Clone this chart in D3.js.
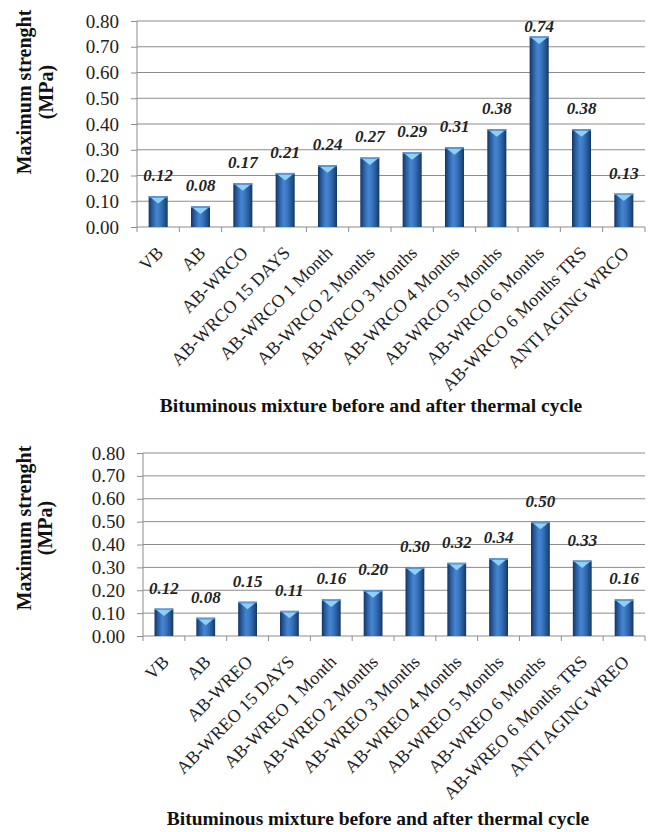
<!DOCTYPE html>
<html>
<head>
<meta charset="utf-8">
<script src="https://cdn.jsdelivr.net/npm/d3@7"></script>
<style>
  html, body { margin: 0; padding: 0; background: #fff; }
  svg { display: block; }
</style>
</head>
<body>
<div id="chart"></div>
<script>
// Category labels for the two panels
const categoriesWRCO = [
  "VB", "AB", "AB-WRCO", "AB-WRCO 15 DAYS", "AB-WRCO 1 Month", "AB-WRCO 2 Months",
  "AB-WRCO 3 Months", "AB-WRCO 4 Months", "AB-WRCO 5 Months", "AB-WRCO 6 Months",
  "AB-WRCO 6 Months TRS", "ANTI AGING WRCO"
];
const valuesWRCO = [0.12, 0.08, 0.17, 0.21, 0.24, 0.27, 0.29, 0.31, 0.38, 0.74, 0.38, 0.13];

const categoriesWREO = [
  "VB", "AB", "AB-WREO", "AB-WREO 15 DAYS", "AB-WREO 1 Month", "AB-WREO 2 Months",
  "AB-WREO 3 Months", "AB-WREO 4 Months", "AB-WREO 5 Months", "AB-WREO 6 Months",
  "AB-WREO 6 Months TRS", "ANTI AGING WREO"
];
const valuesWREO = [0.12, 0.08, 0.15, 0.11, 0.16, 0.20, 0.30, 0.32, 0.34, 0.50, 0.33, 0.16];

const yTicks = [0, 0.1, 0.2, 0.3, 0.4, 0.5, 0.6, 0.7, 0.8];
const yTitleLines = ["Maximum strenght", "(MPa)"];
const xTitle = "Bituminous mixture before and after thermal cycle";

const serif = "'Liberation Serif', 'Times New Roman', Times, serif";
const gridColor = "#8c8c8c";

const width = 654, height = 832;

const svg = d3.select("#chart")
  .append("svg")
  .attr("width", width)
  .attr("height", height)
  .attr("viewBox", `0 0 ${width} ${height}`)
  .style("font-family", serif);

svg.append("rect").attr("width", width).attr("height", height).attr("fill", "#fff");

// bar fill: dark edges, lighter middle (Excel-like cylinder look)
const defs = svg.append("defs");
const grad = defs.append("linearGradient")
  .attr("id", "barGrad")
  .attr("x1", "0").attr("x2", "1").attr("y1", "0").attr("y2", "0");
[[0, "#14345f"], [0.18, "#285b9f"], [0.42, "#4685d0"], [0.6, "#3a77c2"], [0.85, "#22538f"], [1, "#15365f"]]
  .forEach(([o, c]) => grad.append("stop").attr("offset", o).attr("stop-color", c));

const drawPanel = (cfg, categories, values) => {
  const g = svg.append("g");

  const x = d3.scaleBand()
    .domain(categories)
    .range([cfg.left, cfg.right])
    .paddingInner(0.55)
    .paddingOuter(0.275);

  const y = d3.scaleLinear()
    .domain([0, 0.8])
    .range([cfg.bottom, cfg.top]);

  // Gridlines
  g.append("g")
    .selectAll("line")
    .data(yTicks.slice(1))
    .enter()
    .append("line")
    .attr("x1", cfg.left)
    .attr("x2", cfg.right)
    .attr("y1", d => y(d))
    .attr("y2", d => y(d))
    .attr("stroke", gridColor)
    .attr("stroke-width", 1);

  // Y axis
  const yAxis = g.append("g")
    .attr("transform", `translate(${cfg.left},0)`)
    .call(d3.axisLeft(y).tickValues(yTicks).tickFormat(d3.format(".2f")).tickSize(6).tickPadding(12));
  yAxis.attr("font-family", null).attr("font-size", null);
  yAxis.select(".domain").attr("stroke", gridColor).attr("d", `M0,${cfg.top}V${cfg.bottom}`);
  yAxis.selectAll(".tick line").attr("stroke", gridColor);
  yAxis.selectAll("text")
    .style("font-family", serif)
    .style("font-size", "19px")
    .attr("fill", "#222");

  // X axis baseline + boundary ticks
  g.append("line")
    .attr("x1", cfg.left).attr("x2", cfg.right)
    .attr("y1", cfg.bottom).attr("y2", cfg.bottom)
    .attr("stroke", gridColor);
  g.append("g")
    .selectAll("line")
    .data(d3.range(categories.length + 1))
    .enter()
    .append("line")
    .attr("x1", i => cfg.left + i * x.step())
    .attr("x2", i => cfg.left + i * x.step())
    .attr("y1", cfg.bottom)
    .attr("y2", cfg.bottom + 5)
    .attr("stroke", gridColor);

  // Category labels, rotated
  const xAxis = g.append("g")
    .attr("transform", `translate(0,${cfg.bottom})`)
    .call(d3.axisBottom(x).tickSize(0));
  xAxis.attr("font-family", null).attr("font-size", null);
  xAxis.select(".domain").remove();
  xAxis.selectAll("text")
    .attr("y", 0)
    .attr("dy", 0)
    .attr("text-anchor", "end")
    .attr("transform", "translate(6,27) rotate(-45)")
    .style("font-family", serif)
    .style("font-size", "18px")
    .attr("fill", "#222");

  // Bars
  const bars = g.append("g")
    .selectAll("g")
    .data(values)
    .enter()
    .append("g");

  bars.append("rect")
    .attr("x", (d, i) => x(categories[i]))
    .attr("y", d => y(d))
    .attr("width", x.bandwidth())
    .attr("height", d => cfg.bottom - y(d))
    .attr("fill", "url(#barGrad)");

  // light cap on top of each bar
  bars.append("path")
    .attr("d", (d, i) => {
      const x0 = x(categories[i]) + 2;
      const x1 = x(categories[i]) + x.bandwidth() - 2;
      const top = y(d) + 1.5;
      return `M${x0},${top}L${x1},${top}L${(x0 + x1) / 2},${top + 6}Z`;
    })
    .attr("fill", "#8fd0f6");

  bars.append("rect")
    .attr("x", (d, i) => x(categories[i]))
    .attr("y", d => y(d))
    .attr("width", x.bandwidth())
    .attr("height", 1.5)
    .attr("fill", "#5f9bd9");

  // Value labels
  g.append("g")
    .selectAll("text")
    .data(values)
    .enter()
    .append("text")
    .attr("x", (d, i) => x(categories[i]) + x.bandwidth() / 2)
    .attr("y", d => Math.max(y(d) - 15, cfg.top + 11))
    .attr("text-anchor", "middle")
    .style("font-family", serif)
    .style("font-size", "17px")
    .style("font-weight", "bold")
    .style("font-style", "italic")
    .attr("fill", "#222")
    .text(d => d3.format(".2f")(d));

  // Y title (two lines)
  g.append("g")
    .selectAll("text")
    .data(yTitleLines)
    .enter()
    .append("text")
    .attr("transform", (d, i) => `translate(${cfg.yTitleX[i]},${cfg.yTitleY}) rotate(-90)`)
    .attr("text-anchor", "middle")
    .style("font-family", serif)
    .style("font-size", "20px")
    .style("font-weight", "bold")
    .attr("fill", "#111")
    .text(d => d);

  // X title
  g.append("text")
    .attr("x", cfg.xTitleX)
    .attr("y", cfg.xTitleY)
    .attr("text-anchor", "middle")
    .style("font-family", serif)
    .style("font-size", "19.5px")
    .style("font-weight", "bold")
    .attr("fill", "#111")
    .text(xTitle);
};

drawPanel({
  left: 137, right: 645, top: 21, bottom: 227,
  yTitleX: [31, 53], yTitleY: 92,
  xTitleX: 371, xTitleY: 412
}, categoriesWRCO, valuesWRCO);

drawPanel({
  left: 143, right: 645, top: 453, bottom: 636,
  yTitleX: [31, 52], yTitleY: 528,
  xTitleX: 378, xTitleY: 825
}, categoriesWREO, valuesWREO);
</script>
</body>
</html>
